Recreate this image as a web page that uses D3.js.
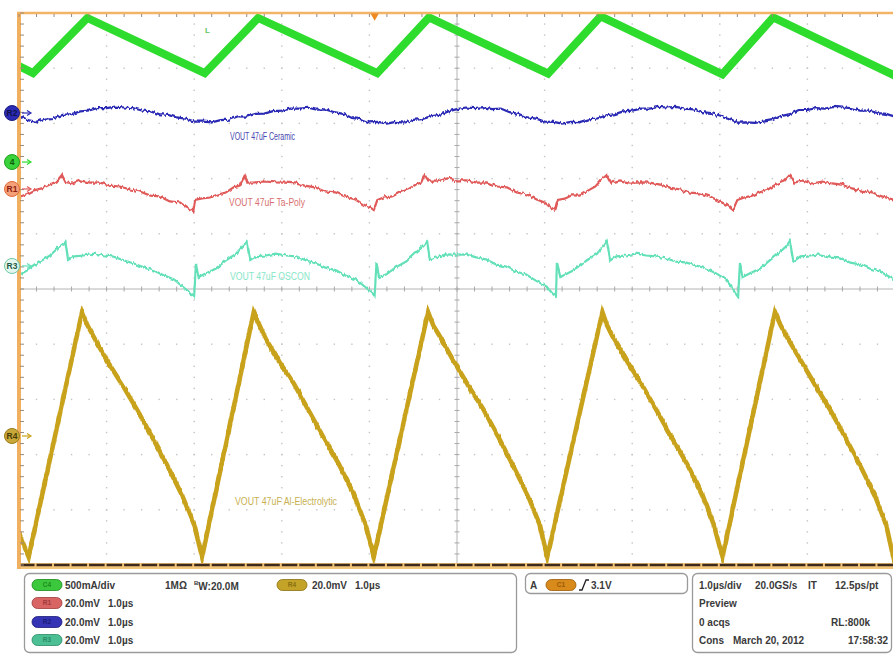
<!DOCTYPE html>
<html>
<head>
<meta charset="utf-8">
<script src="https://cdn.jsdelivr.net/npm/d3@7"></script>
<style>
  body { margin: 0; background: #fff; }
  svg { display: block; font-family: "Liberation Sans", Arial, sans-serif; }
</style>
</head>
<body>
<div id="scope"></div>
<script>
// ---- recorded traces (time in µs, 1.0 µs/div) ----
// C4: inductor current, mA
const c4Time = [0, 0.16, 0.78, 2.12, 2.73, 4.09, 4.68, 6.04, 6.64, 8.03, 8.61, 9.98, 10];
const c4Current = [870, 805, 1305, 805, 1305, 805, 1310, 800, 1320, 795, 1310, 790, 800];

// R2: VOUT 47uF Ceramic, mV (sampled every 0.1 µs)
const r2Mv = [
  -0.7, -2.6, -3.2, -2.0, -1.8, -0.7, -0.4, 0.6, 0.9, 1.8,
  1.8, 2.3, 2.0, 1.8, 0.9, 0.6, -0.4, -0.7, -1.6, -2.0,
  -3.1, -3.1, -3.4, -2.6, -2.4, -1.2, -1.3, -0.3, -0.2, 0.7,
  0.9, 1.6, 1.6, 1.9, 1.2, 1.3, 0.3, -0.3, -1.8, -2.2,
  -3.4, -3.2, -3.8, -3.2, -3.5, -2.5, -2.2, -1.2, -0.7, 0.6,
  1.4, 2.0, 1.8, 2.1, 1.4, 1.6, 0.3, -0.3, -1.6, -2.0,
  -3.1, -3.2, -3.8, -3.2, -3.3, -2.3, -2.0, -0.9, -0.4, 0.6,
  0.9, 1.6, 1.6, 2.2, 2.0, 2.2, 1.6, 1.3, 0.3, 0.0,
  -0.9, -1.8, -3.5, -3.4, -3.6, -3.1, -2.6, -1.1, -0.4, 1.1,
  1.1, 1.8, 1.6, 2.2, 2.0, 1.8, 0.9, 0.9, 0.0, -0.3, -1.3
];
const r2Time = d3.range(r2Mv.length).map(i => i / 10);

// R1: VOUT 47uF Ta-Poly, mV
const r1Time = [
  0, 0.08, 0.17, 0.26, 0.35, 0.43, 0.49, 0.53, 0.61, 0.70, 0.81, 0.92, 1.04, 1.15, 1.27, 1.38, 1.50, 1.61, 1.72, 1.84, 1.91, 1.97, 1.99, 2.01,
  2.09, 2.18, 2.27, 2.36, 2.45, 2.52, 2.58, 2.61, 2.69, 2.81, 2.92, 3.04, 3.15, 3.26, 3.38, 3.49, 3.61, 3.72, 3.84, 3.93, 4.00, 4.05, 4.09,
  4.16, 4.26, 4.35, 4.44, 4.53, 4.59, 4.63, 4.68, 4.77, 4.89, 5.00, 5.11, 5.23, 5.34, 5.46, 5.57, 5.68, 5.80, 5.91, 6.00, 6.07, 6.12, 6.15,
  6.23, 6.31, 6.40, 6.50, 6.58, 6.64, 6.71, 6.76, 6.86, 6.97, 7.09, 7.20, 7.32, 7.43, 7.55, 7.66, 7.77, 7.89, 8.00, 8.08, 8.15, 8.20,
  8.28, 8.37, 8.46, 8.55, 8.64, 8.73, 8.80, 8.85, 8.94, 9.05, 9.17, 9.28, 9.39, 9.51, 9.62, 9.74, 9.85, 10
];
const r1Mv = [
  -2.9, -2.0, -0.5, 0.2, 1.6, 2.7, 5.1, 2.5, 2.0, 3.1, 2.3, 2.4, 1.2, 0.9, -0.2, -0.9, -2.4, -2.7, -4.5, -4.9, -6.7, -7.6, -8.0, -4.0,
  -3.4, -3.1, -2.0, -1.3, 0.6, 1.2, 5.1, 2.3, 2.4, 2.7, 2.4, 2.3, 2.0, 1.2, 0.6, -0.9, -1.2, -2.7, -3.8, -5.6, -6.5, -7.6, -4.0,
  -3.1, -2.7, -1.2, -0.2, 1.6, 2.3, 5.1, 2.7, 2.7, 3.8, 3.1, 3.1, 2.3, 2.4, 0.9, 0.6, -1.3, -2.0, -3.8, -4.9, -6.7, -7.6, -4.0,
  -3.5, -2.3, -2.4, -0.5, 0.9, 3.1, 5.1, 2.3, 3.1, 2.3, 2.4, 2.3, 1.6, 0.5, -0.2, -1.3, -1.6, -2.7, -4.5, -5.8, -7.6, -4.0,
  -3.1, -2.4, -1.2, -0.2, 1.6, 2.7, 5.1, 2.3, 3.1, 2.0, 2.7, 2.0, 1.6, 0.2, -0.6, -1.2, -2.7, -4.0
];

// R3: VOUT 47uF OSCON, mV
const r3Time = [
  0, 0.13, 0.24, 0.35, 0.45, 0.53, 0.56, 0.63, 0.74, 0.86, 0.97, 1.08, 1.20, 1.31, 1.43, 1.54, 1.66, 1.77, 1.88, 1.97, 2.00, 2.02,
  2.05, 2.13, 2.25, 2.36, 2.48, 2.56, 2.60, 2.64, 2.71, 2.82, 2.93, 3.05, 3.16, 3.28, 3.39, 3.50, 3.62, 3.73, 3.85, 3.96, 4.04, 4.06, 4.08,
  4.11, 4.19, 4.30, 4.42, 4.53, 4.61, 4.66, 4.69, 4.76, 4.87, 4.99, 5.10, 5.22, 5.33, 5.45, 5.56, 5.67, 5.79, 5.90, 6.02, 6.10, 6.13, 6.14,
  6.18, 6.26, 6.37, 6.48, 6.60, 6.67, 6.71, 6.75, 6.82, 6.93, 7.04, 7.16, 7.27, 7.39, 7.50, 7.61, 7.73, 7.84, 7.96, 8.07, 8.15, 8.21, 8.23,
  8.26, 8.34, 8.46, 8.57, 8.69, 8.76, 8.80, 8.84, 8.92, 9.03, 9.14, 9.26, 9.37, 9.49, 9.60, 9.71, 9.83, 10
];
const r3Mv = [
  -3.3, -0.9, 1.6, 3.7, 6.7, 8.7, 2.2, 3.5, 3.8, 4.5, 3.9, 3.4, 2.0, 0.9, -0.6, -1.6, -3.5, -4.9, -7.8, -10.1, -10.9, 1.1,
  -4.0, -2.7, -0.9, 2.0, 4.5, 7.4, 8.7, 2.2, 3.6, 3.8, 4.5, 3.8, 3.5, 2.0, 0.9, -0.6, -1.6, -3.5, -5.0, -7.8, -10.1, -10.9, 1.1,
  -4.0, -3.1, -0.5, 1.6, 4.9, 7.0, 8.7, 2.4, 3.1, 4.2, 4.1, 4.2, 3.1, 2.4, 0.5, -0.2, -2.0, -3.1, -5.3, -7.4, -10.3, -10.9, 1.1,
  -4.0, -2.7, -0.9, 2.0, 4.5, 7.4, 9.1, 2.0, 3.5, 3.8, 4.5, 3.8, 3.5, 2.7, 1.6, 1.3, 0.2, -0.9, -2.7, -4.9, -8.3, -10.9, 1.1,
  -4.0, -2.7, -0.9, 2.0, 5.1, 7.2, 9.1, 1.6, 3.5, 3.8, 4.2, 3.4, 3.1, 1.2, 0.6, -0.9, -2.0, -5.1
];

// R4: VOUT 47uF Al-Electrolytic, mV
const r4Time = [
  0, 0.11, 0.72, 0.78, 0.86, 1.00, 1.18, 1.35, 1.52, 1.69, 1.86, 2.00, 2.09,
  2.68, 2.74, 2.82, 2.97, 3.14, 3.31, 3.48, 3.65, 3.82, 3.96, 4.05,
  4.67, 4.73, 4.81, 4.95, 5.13, 5.30, 5.47, 5.64, 5.81, 5.94, 6.03,
  6.66, 6.71, 6.79, 6.94, 7.11, 7.28, 7.45, 7.63, 7.80, 7.93, 8.03,
  8.63, 8.69, 8.77, 8.92, 9.09, 9.26, 9.43, 9.60, 9.77, 9.90, 9.98, 10
];
const r4Mv = [
  -35.1, -43.8, 44.9, 40.2, 35.5, 27.5, 18.5, 9.4, -0.4, -10.5, -21.4, -32.2, -43.8,
  44.9, 40.5, 35.0, 27.0, 18.9, 9.0, -0.8, -10.1, -21.0, -32.5, -43.8,
  44.9, 40.0, 35.8, 27.8, 18.2, 9.7, -0.2, -10.8, -21.6, -31.8, -43.8,
  44.9, 40.3, 35.2, 27.2, 18.6, 9.2, -0.5, -10.4, -21.2, -32.0, -43.8,
  44.9, 40.4, 35.6, 27.6, 18.4, 9.5, -0.3, -10.6, -21.5, -32.3, -43.8, -42.0
];

// ---- readout texts ----
const channelRows = [
  { badge: "C4", scale: "500mA/div", time: "" },
  { badge: "R1", scale: "20.0mV", time: "1.0µs" },
  { badge: "R2", scale: "20.0mV", time: "1.0µs" },
  { badge: "R3", scale: "20.0mV", time: "1.0µs" }
];
const timebaseRows = [
  ["1.0µs/div", "20.0GS/s", "IT", "12.5ps/pt"],
  ["Preview"],
  ["0 acqs", "RL:800k"],
  ["Cons", "March 20, 2012", "17:58:32"]
];

/*******************************/
/*    Declare the constants    */
/*******************************/
const width = 893;
const height = 654;
const plot = { left: 19, right: 895, top: 13, bottom: 565 };
const font = "'Liberation Sans', Arial, sans-serif";

const xScale = d3.scaleLinear().domain([0, 10]).range([plot.left, plot.right]);
const yScale = d3.scaleLinear().domain([-5, 5]).range([plot.bottom, plot.top]);

const channels = [
  { id: "R4", t: r4Time, v: r4Mv, perDiv: 20, offset: -2.663, color: "#c9a21c", width: 4.6, noisy: true,
    label: "VOUT 47uF Al-Electrolytic", labelColor: "#c8b050", lx: 235, ly: 505, lw: 102,
    mark: { fill: "#c8a838", stroke: "#9c7d18", text: "#4a3a08" } },
  { id: "R3", t: r3Time, v: r3Mv, perDiv: 20, offset: 0.417, color: "#63e0b8", width: 2.2, noisy: true,
    label: "VOUT 47uF OSCON", labelColor: "#86e6c8", lx: 230, ly: 280, lw: 80,
    mark: { fill: "#e4f7ee", stroke: "#6cc8a8", text: "#1f5a48" } },
  { id: "R1", t: r1Time, v: r1Mv, perDiv: 20, offset: 1.812, color: "#e05a5a", width: 2.2, noisy: true,
    label: "VOUT 47uF Ta-Poly", labelColor: "#d87070", lx: 229, ly: 206, lw: 76,
    mark: { fill: "#f4a078", stroke: "#e06a3a", text: "#902010" } },
  { id: "R2", t: r2Time, v: r2Mv, perDiv: 20, offset: 3.188, color: "#2a2ab4", width: 2.2, noisy: true,
    label: "VOUT 47uF Ceramic", labelColor: "#4646b0", lx: 230, ly: 140, lw: 65,
    mark: { fill: "#2b2bb5", stroke: "#1c1c80", text: "#12124a" } },
  { id: "4", t: c4Time, v: c4Current, perDiv: 500, offset: 2.30, color: "#2ddc2d", width: 8, noisy: false,
    mark: { fill: "#3ad23a", stroke: "#22a022", text: "#0c5a0c" } }
];

/*******************************/
/*    Append the containers    */
/*******************************/
const svg = d3.select("#scope")
  .append("svg")
  .attr("width", width)
  .attr("height", height)
  .attr("viewBox", `0 0 ${width} ${height}`);

svg.append("rect").attr("width", width).attr("height", height).attr("fill", "#fff");

const defs = svg.append("defs");
defs.append("clipPath").attr("id", "plotClip")
  .append("rect")
  .attr("x", plot.left).attr("y", plot.top)
  .attr("width", plot.right - plot.left).attr("height", plot.bottom - plot.top);

// acquisition noise look: vertical-only jitter of the drawn stroke
const jitter = defs.append("filter").attr("id", "jitter")
  .attr("filterUnits", "userSpaceOnUse")
  .attr("x", 0).attr("y", 0).attr("width", width).attr("height", height);
jitter.append("feTurbulence")
  .attr("type", "fractalNoise").attr("baseFrequency", "0.45 0.08")
  .attr("numOctaves", 2).attr("seed", 3).attr("result", "turb");
jitter.append("feColorMatrix")
  .attr("in", "turb").attr("type", "matrix")
  .attr("values", "0 0 0 0 0.5  0 1 0 0 0  0 0 0 0 0  0 0 0 0 1")
  .attr("result", "map");
jitter.append("feDisplacementMap")
  .attr("in", "SourceGraphic").attr("in2", "map")
  .attr("scale", 5).attr("xChannelSelector", "R").attr("yChannelSelector", "G");

// ---- graticule ----
const grid = svg.append("g");
const minorX = d3.range(0, 50.5).map(i => i / 5);
const minorY = d3.range(-25, 25.5).map(i => i / 5);

// dotted division lines
[1, 2, 3, 4, 6, 7, 8, 9].forEach(k => {
  grid.selectAll(null).data(minorY).join("rect")
    .attr("x", xScale(k) - 0.7).attr("y", d => yScale(d) - 0.7)
    .attr("width", 1.4).attr("height", 1.4).attr("fill", "#c4c4c4");
});
[-4, -3, -2, -1, 1, 2, 3, 4].forEach(k => {
  grid.selectAll(null).data(minorX).join("rect")
    .attr("x", d => xScale(d) - 0.7).attr("y", yScale(k) - 0.7)
    .attr("width", 1.4).attr("height", 1.4).attr("fill", "#c4c4c4");
});

// centre cross with minor ticks
grid.append("line")
  .attr("x1", xScale(5)).attr("x2", xScale(5))
  .attr("y1", plot.top).attr("y2", plot.bottom)
  .attr("stroke", "#b4b4b4").attr("stroke-width", 1);
grid.append("line")
  .attr("x1", plot.left).attr("x2", plot.right)
  .attr("y1", yScale(0)).attr("y2", yScale(0))
  .attr("stroke", "#b4b4b4").attr("stroke-width", 1);
grid.selectAll(null).data(minorY).join("line")
  .attr("x1", xScale(5) - 2.5).attr("x2", xScale(5) + 2.5)
  .attr("y1", d => yScale(d)).attr("y2", d => yScale(d))
  .attr("stroke", "#a8a8a8");
grid.selectAll(null).data(minorX).join("line")
  .attr("x1", d => xScale(d)).attr("x2", d => xScale(d))
  .attr("y1", yScale(0) - 2.5).attr("y2", yScale(0) + 2.5)
  .attr("stroke", "#a8a8a8");

// ---- waveforms ----
const line = d3.line()
  .x(d => xScale(d[0]))
  .y(d => yScale(d[1]));

const traces = svg.append("g").attr("clip-path", "url(#plotClip)");
channels.forEach(ch => {
  const points = ch.t.map((t, i) => [t, ch.offset + ch.v[i] / ch.perDiv]);
  traces.append("path")
    .attr("d", line(points))
    .attr("fill", "none")
    .attr("stroke", ch.color)
    .attr("stroke-width", ch.width)
    .attr("stroke-linejoin", "miter")
    .attr("stroke-miterlimit", 6)
    .attr("filter", ch.noisy ? "url(#jitter)" : null);
});

// trace annotations
channels.filter(ch => ch.label).forEach(ch => {
  svg.append("text")
    .text(ch.label)
    .attr("x", ch.lx).attr("y", ch.ly)
    .attr("font-size", 10)
    .attr("textLength", ch.lw)
    .attr("lengthAdjust", "spacingAndGlyphs")
    .attr("fill", ch.labelColor);
});
svg.append("text").text("L")
  .attr("x", 205).attr("y", 33)
  .attr("font-size", 8).attr("font-weight", "bold")
  .attr("fill", "#5cc85c");

// ---- frame ----
const frame = svg.append("g");
frame.append("rect")
  .attr("x", plot.left).attr("y", plot.bottom - 2)
  .attr("width", plot.right - plot.left).attr("height", 6)
  .attr("fill", "#f2c47a");
frame.append("line")
  .attr("x1", plot.left).attr("x2", plot.right)
  .attr("y1", plot.bottom).attr("y2", plot.bottom)
  .attr("stroke", "#3c2a1c").attr("stroke-width", 2.4)
  .attr("stroke-dasharray", `${xScale(0.2) - xScale(0) - 2} 2`);
frame.append("line")
  .attr("x1", plot.left - 2).attr("x2", plot.right)
  .attr("y1", plot.top).attr("y2", plot.top)
  .attr("stroke", "#f2b466").attr("stroke-width", 2.5);
frame.append("line")
  .attr("x1", plot.left).attr("x2", plot.left)
  .attr("y1", plot.top).attr("y2", plot.bottom + 4)
  .attr("stroke", "#f0b060").attr("stroke-width", 4);
frame.selectAll(null).data(minorX).join("line")
  .attr("x1", d => xScale(d)).attr("x2", d => xScale(d))
  .attr("y1", plot.top + 1).attr("y2", plot.top + 4)
  .attr("stroke", "#9a8a7a").attr("stroke-width", 1);
frame.selectAll(null).data(minorY).join("line")
  .attr("x1", plot.left + 1).attr("x2", plot.left + 5)
  .attr("y1", d => yScale(d)).attr("y2", d => yScale(d))
  .attr("stroke", "#9a8a7a").attr("stroke-width", 1);

// trigger position
frame.append("path")
  .attr("d", d3.symbol(d3.symbolTriangle, 30)())
  .attr("transform", `translate(${xScale(4.06)}, ${plot.top + 3}) rotate(180)`)
  .attr("fill", "#ee8a22");

// ---- ground markers ----
channels.forEach(ch => {
  const cy = yScale(ch.offset);
  const g = svg.append("g");
  g.append("line")
    .attr("x1", 22).attr("x2", 30).attr("y1", cy).attr("y2", cy)
    .attr("stroke", ch.color).attr("stroke-width", 1.2);
  g.append("path")
    .attr("d", `M27,${cy - 2.5} L31,${cy} L27,${cy + 2.5}`)
    .attr("fill", "none").attr("stroke", ch.color).attr("stroke-width", 1.2);
  g.append("circle")
    .attr("cx", 12).attr("cy", cy).attr("r", 7.5)
    .attr("fill", ch.mark.fill).attr("stroke", ch.mark.stroke).attr("stroke-width", 1);
  g.append("text")
    .text(ch.id)
    .attr("x", 12).attr("y", cy + 3)
    .attr("text-anchor", "middle")
    .attr("font-size", 8.5).attr("font-weight", "bold")
    .attr("fill", ch.mark.text);
});

// ---- readout panel ----
const panel = svg.append("g").attr("font-family", font);
const boxes = [
  { x: 24.5, y: 573.5, w: 492, h: 79 },
  { x: 525.5, y: 573.5, w: 162, h: 20 },
  { x: 692.5, y: 573.5, w: 199, h: 79 }
];
panel.selectAll("rect.box").data(boxes).join("rect")
  .attr("class", "box")
  .attr("x", d => d.x).attr("y", d => d.y)
  .attr("width", d => d.w).attr("height", d => d.h)
  .attr("rx", 5)
  .attr("fill", "#fff").attr("stroke", "#9a9a9a").attr("stroke-width", 1.3);

const badgeColors = {
  C4: ["#3cc83c", "#1c8a1c"], R1: ["#d86464", "#a03a3a"], R2: ["#3434b4", "#1c1c7a"],
  R3: ["#4cc094", "#2a8a64"], R4: ["#c4a428", "#8a7010"], C1: ["#d88a1a", "#9a5a08"]
};
const badge = (x, cy, id) => {
  const [fill, dark] = badgeColors[id];
  panel.append("rect")
    .attr("x", x).attr("y", cy - 5.5).attr("width", 30).attr("height", 11)
    .attr("rx", 5.5).attr("fill", fill).attr("stroke", dark).attr("stroke-width", 0.8);
  panel.append("text").text(id)
    .attr("x", x + 15).attr("y", cy + 2.3)
    .attr("text-anchor", "middle")
    .attr("font-size", 6.5).attr("font-weight", "bold")
    .attr("fill", dark);
};
const label = (txt, x, y, anchor = "start") => panel.append("text")
  .text(txt).attr("x", x).attr("y", y)
  .attr("text-anchor", anchor)
  .attr("font-size", 10).attr("font-weight", "bold")
  .attr("fill", "#3a3a3a");

const rowY = [585, 603, 622, 640];
channelRows.forEach((row, i) => {
  badge(32, rowY[i], row.badge);
  label(row.scale, 65, rowY[i] + 3.6);
  if (row.time) label(row.time, 108, rowY[i] + 3.6);
});
label("1MΩ", 165, rowY[0] + 3.6);
const bw = label("", 194, rowY[0] + 3.6);
bw.append("tspan").text("B").attr("font-size", 6).attr("dy", -4);
bw.append("tspan").text("W:20.0M").attr("dy", 5.5);
badge(277, rowY[0], "R4");
label("20.0mV", 312, rowY[0] + 3.6);
label("1.0µs", 355, rowY[0] + 3.6);

// trigger readout
label("A", 530, rowY[0] + 3.6);
badge(546, rowY[0], "C1");
panel.append("path")
  .attr("d", `M579,${rowY[0] + 5} L582,${rowY[0] + 5} Q584,${rowY[0]} 586,${rowY[0] - 5} L589,${rowY[0] - 5}`)
  .attr("fill", "none").attr("stroke", "#222").attr("stroke-width", 1.3);
label("3.1V", 591, rowY[0] + 3.6);

// timebase readout
const tbX = [[699, 755, 808, 835], [699], [699, 870], [699, 733, 888]];
const tbAnchor = [["start", "start", "start", "start"], ["start"], ["start", "end"], ["start", "start", "end"]];
timebaseRows.forEach((row, i) => {
  row.forEach((txt, j) => label(txt, tbX[i][j], rowY[i] + 3.6, tbAnchor[i][j]));
});
</script>
</body>
</html>
